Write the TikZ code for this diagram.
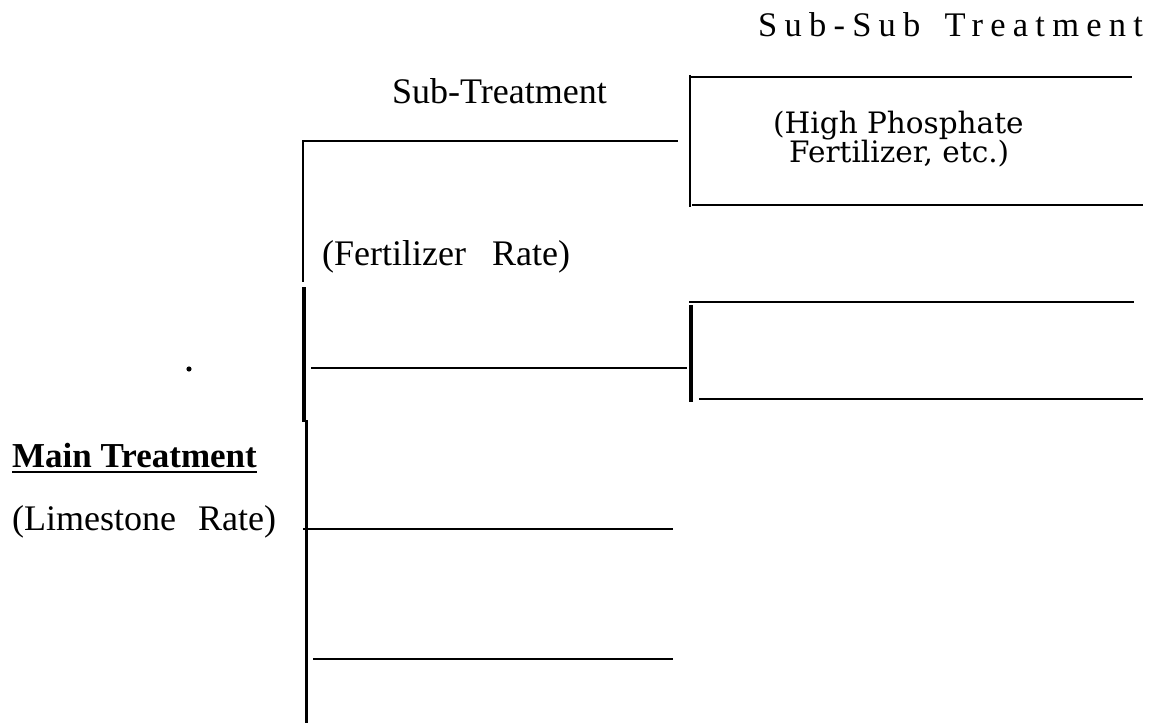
\documentclass[tikz,border=0pt]{standalone}
\usepackage{fontspec}
\setmainfont{Liberation Serif}
\newfontfamily\spacedfont[LetterSpace=21]{Liberation Serif}
\newfontfamily\highfont{DejaVu Serif}
\begin{document}
\begin{tikzpicture}[x=1pt,y=-1pt,
  thinline/.style={line width=1.8pt},
  thickline/.style={line width=3.2pt},
  midline/.style={line width=2.6pt},
  lbl/.style={inner sep=0pt,anchor=base west},
  bigtext/.style={font=\fontsize{36}{42}\selectfont}]
\useasboundingbox[fill=white] (0,0) rectangle (1163,725);

% labels
\node[lbl,font=\spacedfont\fontsize{34.5}{40}\selectfont] (subsub) at (758,37) {Sub-Sub\hspace{24pt}Treatment};
\node[lbl,bigtext] (sub) at (392,103) {Sub-Treatment};
\node[lbl,bigtext] (fert) at (322,265) {(Fertilizer\hspace{26pt}Rate)};
\node[lbl,font=\highfont\fontsize{29.5}{34}\selectfont] (high1) at (773,133) {(High Phosphate};
\node[lbl,font=\highfont\fontsize{29.5}{34}\selectfont] (high2) at (789,162) {Fertilizer, etc.)};
\node[lbl,font=\bfseries\fontsize{35}{40}\selectfont] (main) at (12,467) {Main Treatment};
\draw[line width=2.6pt] ([yshift=-5pt]main.base west) -- ([yshift=-5pt]main.base east);
\node[lbl,bigtext] (lime) at (12,530) {(Limestone\hspace{22pt}Rate)};
\fill (189,369) circle (2.6);

% upper sub-sub box
\coordinate (a1) at (690,75);  \coordinate (a2) at (690,207);
\coordinate (a3) at (689,77);  \coordinate (a4) at (1132,77);
\coordinate (a5) at (692,205); \coordinate (a6) at (1143,205);
\draw[thinline] (a1) -- (a2);
\draw[thinline] (a3) -- (a4);
\draw[thinline] (a5) -- (a6);

% sub-treatment box
\coordinate (b1) at (302,141); \coordinate (b2) at (678,141);
\coordinate (b3) at (303,140); \coordinate (b4) at (303,282);
\draw[thinline] (b1) -- (b2);
\draw[thinline] (b3) -- (b4);

% main vertical
\coordinate (m1) at (304,287); \coordinate (m2) at (304,422);
\coordinate (m3) at (306.5,420); \coordinate (m4) at (306.5,723);
\draw[thickline] (m1) -- (m2);
\draw[thickline] (m3) -- (m4);

% middle sub horizontal
\coordinate (h1) at (311,368); \coordinate (h2) at (687,368);
\draw[midline] (h1) -- (h2);

% lower sub-sub box
\coordinate (c1) at (691,305); \coordinate (c2) at (691,402);
\coordinate (c3) at (689,302); \coordinate (c4) at (1134,302);
\coordinate (c5) at (699,399); \coordinate (c6) at (1143,399);
\draw[thickline] (c1) -- (c2);
\draw[midline] (c3) -- (c4);
\draw[midline] (c5) -- (c6);

% lower horizontals
\coordinate (d1) at (303,529); \coordinate (d2) at (673,529);
\coordinate (e1) at (313,659); \coordinate (e2) at (673,659);
\draw[midline] (d1) -- (d2);
\draw[midline] (e1) -- (e2);
\end{tikzpicture}
\end{document}
